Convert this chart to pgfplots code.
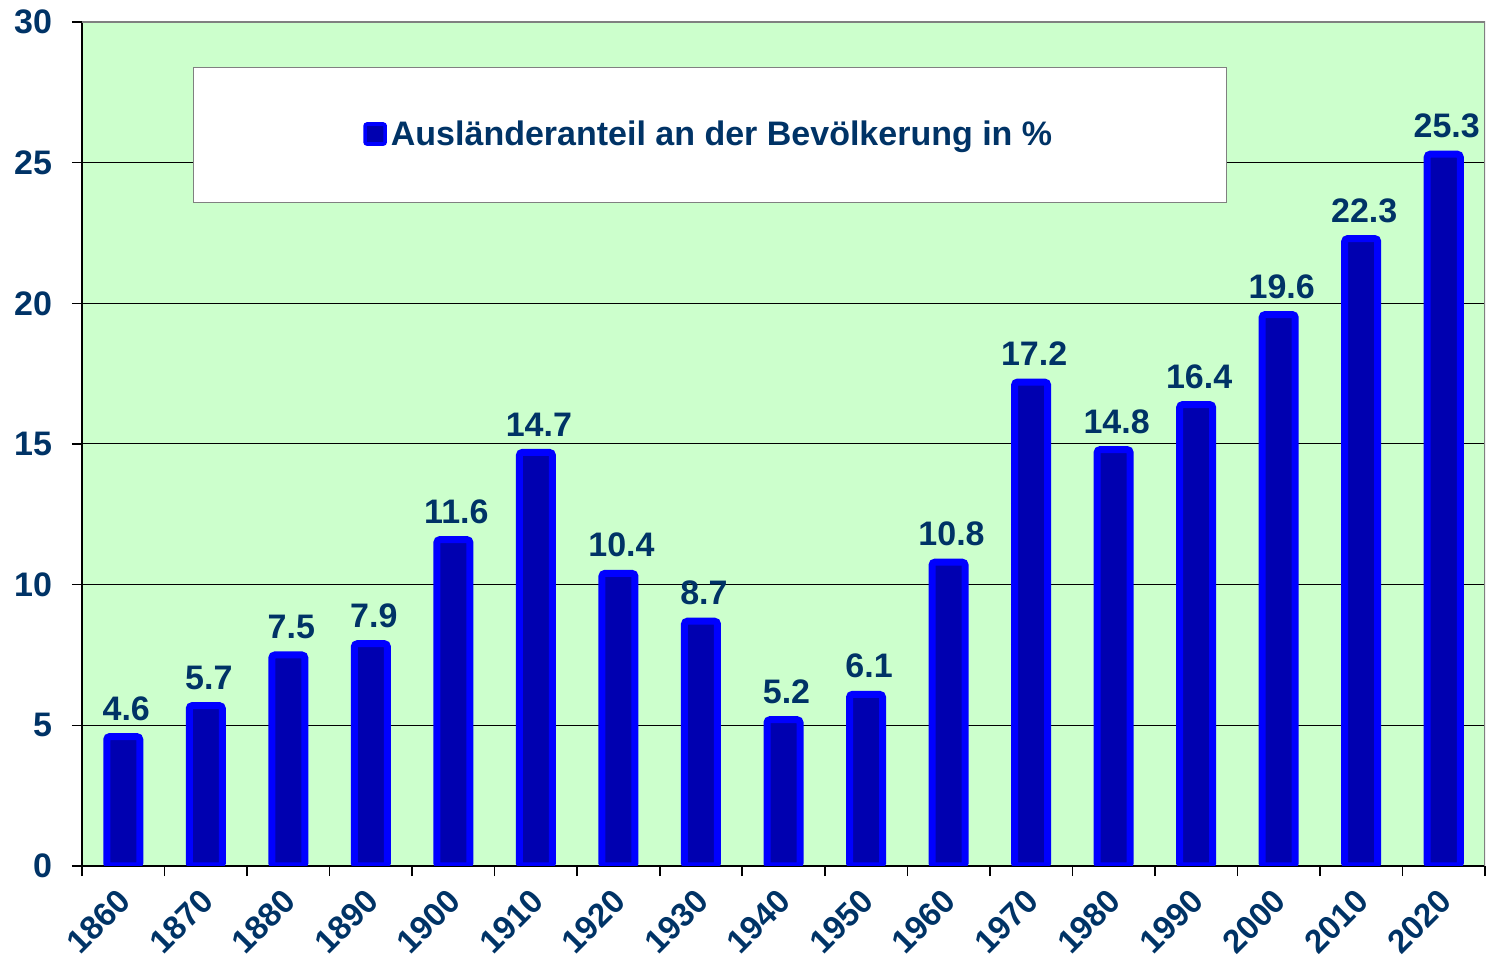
\documentclass[border=0pt]{standalone}
\usepackage{fontspec}
\setmainfont{Liberation Sans}
\usepackage{pgfplots}
\pgfplotsset{compat=1.18}
\usetikzlibrary{calc}
\definecolor{navy}{RGB}{0,51,102}
\definecolor{bgreen}{RGB}{204,255,204}
\definecolor{barin}{RGB}{0,0,176}
\definecolor{barout}{RGB}{0,0,255}

\begin{document}
\begin{tikzpicture}
\begin{axis}[
  scale only axis,
  width=701.5pt, height=422pt,
  ybar, bar width=16.5pt,
  xmin=-0.5, xmax=16.5,
  ymin=0, ymax=30,
  ytick={0,5,...,30},
  xtick={0,...,16},
  xticklabels={1860,1870,1880,1890,1900,1910,1920,1930,1940,1950,1960,1970,1980,1990,2000,2010,2020},
  minor xtick={-0.5,0.5,...,16.5},
  axis x line*=bottom, axis y line*=left,
  axis line style={black, line width=0.8pt, -},
  major x tick style={draw=none},
  minor x tick style={black, line width=0.8pt},
  y tick style={black, line width=0.8pt},
  tick align=outside,
  major tick length=5pt, minor tick length=5pt,
  ymajorgrids, grid style={black, line width=0.5pt},
  axis background/.style={fill=bgreen},
  /pgf/number format/assume math mode=true,
  tick label style={font=\fontsize{17}{20}\selectfont\bfseries, text=navy},
  yticklabel style={xshift=-6.5pt},
  xticklabel style={font=\fontsize{16.5}{19}\selectfont\bfseries, inner sep=0pt, xshift=-3.5pt, yshift=-5.5pt, rotate=45, anchor=north east},
  nodes near coords={\pgfmathprintnumber[fixed,fixed zerofill,precision=1]{\pgfplotspointmeta}},
  every node near coord/.append style={font=\fontsize{17}{20}\selectfont\bfseries, text=navy, yshift=3pt, xshift=1.5pt},
  legend style={at={(0.079,0.947)}, anchor=north west, draw=gray, line width=0.5pt,
    fill=white, inner xsep=85pt, inner ysep=25pt,
    font=\fontsize{17}{20}\selectfont\bfseries, text=navy},
  legend image code/.code={
    \draw[fill=barin, draw=barout, line width=1.8pt, rounded corners=1pt] (0pt,-4.5pt) rectangle (10pt,5.5pt);
  },
]
\addplot[fill=barin, draw=barout, line width=3.5pt, rounded corners=1.5pt] coordinates {
  (0,4.6) (1,5.7) (2,7.5) (3,7.9) (4,11.6) (5,14.7) (6,10.4) (7,8.7) (8,5.2)
  (9,6.1) (10,10.8) (11,17.2) (12,14.8) (13,16.4) (14,19.6) (15,22.3) (16,25.3)};
\addlegendentry{Ausländeranteil an der Bevölkerung in \%}
\draw[gray, line width=0.8pt] (rel axis cs:0,1) -- (rel axis cs:1,1) -- (rel axis cs:1,0);
\end{axis}
\path ($(current axis.south west)+(-41pt,-48.5pt)$) rectangle ($(current axis.north east)+(1.5pt,11pt)$);
\end{tikzpicture}
\end{document}
